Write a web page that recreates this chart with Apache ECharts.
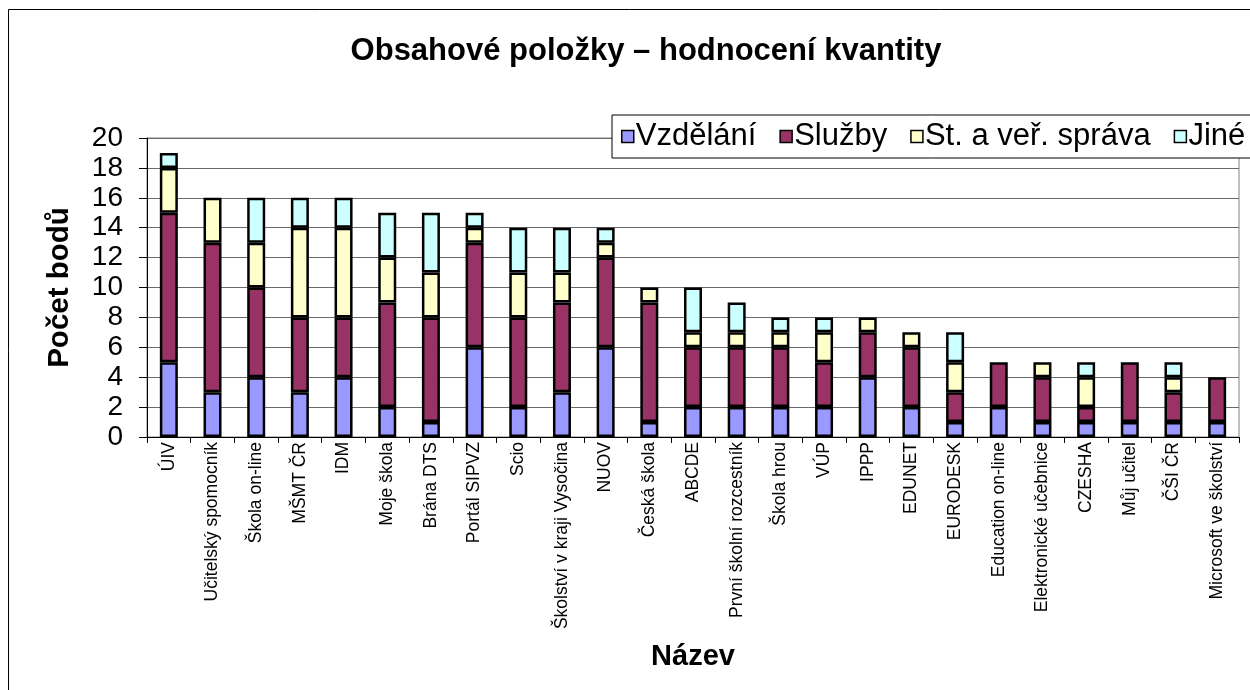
<!DOCTYPE html>
<html>
<head>
<meta charset="utf-8">
<script src="https://cdn.jsdelivr.net/npm/echarts@6/dist/echarts.min.js"></script>
<style>
  html, body { margin: 0; padding: 0; background: #fff; }
  #chart { width: 1250px; height: 690px; }
</style>
</head>
<body>
<div id="chart"></div>
<script>
const categories = [
  "ÚIV", "Učitelský spomocník", "Škola on-line", "MŠMT ČR", "IDM", "Moje škola",
  "Brána DTS", "Portál SIPVZ", "Scio", "Školství v kraji Vysočina", "NUOV",
  "Česká škola", "ABCDE", "První školní rozcestník", "Škola hrou", "VÚP", "IPPP",
  "EDUNET", "EURODESK", "Education on-line", "Elektronické učebnice", "CZESHA",
  "Můj učitel", "ČŠI ČR", "Microsoft ve školství"
];
const vzdelani = [5, 3, 4, 3, 4, 2, 1, 6, 2, 3, 6, 1, 2, 2, 2, 2, 4, 2, 1, 2, 1, 1, 1, 1, 1];
const sluzby   = [10, 10, 6, 5, 4, 7, 7, 7, 6, 6, 6, 8, 4, 4, 4, 3, 3, 4, 2, 3, 3, 1, 4, 2, 3];
const sprava   = [3, 3, 3, 6, 6, 3, 3, 1, 3, 2, 1, 1, 1, 1, 1, 2, 1, 1, 2, 0, 1, 2, 0, 1, 0];
const jine     = [1, 0, 3, 2, 2, 3, 4, 1, 3, 3, 1, 0, 3, 2, 1, 1, 0, 0, 2, 0, 0, 1, 0, 1, 0];
const yTicks = { min: 0, max: 20, interval: 2 };

const FONT = "'Liberation Sans', Arial, sans-serif";

const seriesDefs = [
  { name: "Vzdělání", data: vzdelani, color: "#9999FF" },
  { name: "Služby", data: sluzby, color: "#993366" },
  { name: "St. a veř. správa", data: sprava, color: "#FFFFCC" },
  { name: "Jiné", data: jine, color: "#CCFFFF" },
];

const chart = echarts.init(document.getElementById("chart"), null, { renderer: "canvas" });

chart.setOption({
  animation: false,
  backgroundColor: "#fff",
  textStyle: { fontFamily: FONT, color: "#000" },
  graphic: [{
    type: "rect",
    shape: { x: 8.5, y: 9.5, width: 1300, height: 800 },
    style: { fill: "none", stroke: "#000", lineWidth: 1 },
    z: -1,
  }],
  title: {
    text: "Obsahové položky – hodnocení kvantity",
    left: 641,
    top: 31,
    textAlign: "center",
    textStyle: { fontFamily: FONT, fontSize: 31, fontWeight: "bold", color: "#000" },
  },
  legend: {
    left: 612,
    top: 115,
    width: 800,
    padding: [6, 9, 6, 9],
    itemGap: 23,
    itemWidth: 12,
    itemHeight: 12,
    icon: "rect",
    backgroundColor: "#fff",
    borderColor: "#000",
    borderWidth: 1,
    z: 10,
    itemStyle: { borderColor: "#000", borderWidth: 1.5 },
    textStyle: { fontFamily: FONT, fontSize: 31, color: "#000", padding: [0, 0, 0, -3] },
  },
  grid: {
    left: 147,
    right: 11,
    top: 138,
    bottom: 253,
    show: true,
    borderColor: "#808080",
    borderWidth: 1,
  },
  xAxis: {
    type: "category",
    data: categories,
    name: "Název",
    nameLocation: "middle",
    nameGap: 205,
    nameTextStyle: { fontFamily: FONT, fontSize: 29, fontWeight: "bold", color: "#000" },
    axisLine: { lineStyle: { color: "#000", width: 1 } },
    axisTick: { show: true, length: 6, alignWithLabel: false, lineStyle: { color: "#000" } },
    axisLabel: {
      rotate: 90,
      interval: 0,
      margin: 5,
      fontFamily: FONT,
      fontSize: 17.5,
      color: "#000",
    },
  },
  yAxis: {
    type: "value",
    min: yTicks.min,
    max: yTicks.max,
    interval: yTicks.interval,
    name: "Počet bodů",
    nameLocation: "middle",
    nameRotate: 90,
    nameGap: 72,
    nameTextStyle: { fontFamily: FONT, fontSize: 29.5, fontWeight: "bold", color: "#000" },
    axisLine: { show: true, lineStyle: { color: "#000", width: 1 } },
    axisTick: { show: true, length: 8, lineStyle: { color: "#000" } },
    axisLabel: { margin: 24, fontFamily: FONT, fontSize: 28, color: "#000" },
    splitLine: { show: true, lineStyle: { color: "#6a6a6a", width: 1 } },
  },
  series: seriesDefs.map(def => ({
    name: def.name,
    type: "bar",
    stack: "total",
    barWidth: 18,
    data: def.data.map(v => (v === 0 ? null : v)),
    itemStyle: { color: def.color, borderColor: "#000", borderWidth: 2.5 },
  })),
});
</script>
</body>
</html>
